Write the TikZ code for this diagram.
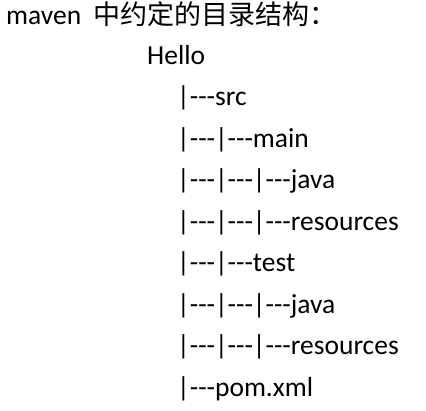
\documentclass[tikz,border=0pt]{standalone}
\usepackage{fontspec}
\setmainfont{Carlito}
\newfontfamily\treefont{Carlito}
\newfontfamily\cjkfont{Noto Sans CJK SC}
\usetikzlibrary{positioning}
\tikzset{
  treeline/.style={
    anchor=base west, inner sep=0pt,
    font=\treefont\fontsize{27.5}{30}\selectfont
  },
  headline/.style={
    anchor=base west, inner sep=0pt,
    font=\fontsize{27.5}{30}\selectfont
  },
}

\begin{document}
\begin{tikzpicture}[x=1pt, y=1pt]
  \useasboundingbox[fill=white] (0,0) rectangle (426,-410);
  % Heading
  \node[headline] (title) at (6,-24) {maven\hspace{12pt}{\cjkfont\fontsize{27}{30}\selectfont 中约定的目录结构：}};
  % Tree
  \node[treeline] (hello) at (147,-64) {Hello};
  \node[treeline] (src)   at (177,-105.5) {|---src};
  \node[treeline] (main)  at (177,-147) {|---|---main};
  \node[treeline] (mjava) at (177,-188.5) {|---|---|---java};
  \node[treeline] (mres)  at (177,-230) {|---|---|---resources};
  \node[treeline] (test)  at (177,-271.5) {|---|---test};
  \node[treeline] (tjava) at (177,-313) {|---|---|---java};
  \node[treeline] (tres)  at (177,-354.5) {|---|---|---resources};
  \node[treeline] (pom)   at (177,-396) {|---pom.xml};
\end{tikzpicture}
\end{document}
